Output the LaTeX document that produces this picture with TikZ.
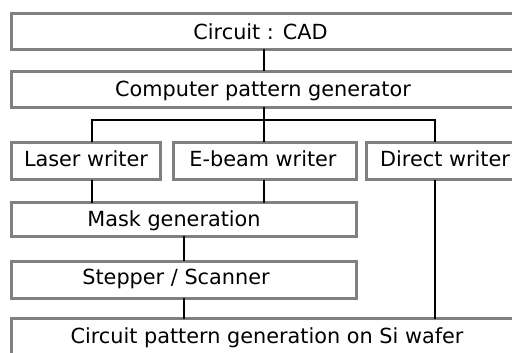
\documentclass[tikz,border=0pt]{standalone}
\usepackage{fontspec}
\setmainfont{DejaVu Sans}
\begin{document}
\begin{tikzpicture}[x=1pt,y=-1pt,
  box/.style={draw=black!50, line width=3pt, fill=white, inner sep=0pt, outer sep=0pt},
  lbl/.style={anchor=base, inner sep=0pt, font=\fontsize{20.8}{24}\selectfont},
  conn/.style={draw=black, line width=2pt}]
\useasboundingbox (0,0) rectangle (512,353);
\clip (0,0) rectangle (512,353);
\fill[white] (0,0) rectangle (512,353);
% boxes
\node[box, minimum width=518.3pt, minimum height=36pt] (cad) at (270.85,31.5) {};
\node[box, minimum width=518.3pt, minimum height=36pt] (cpg) at (270.85,89.5) {};
\node[box, minimum width=148.8pt, minimum height=37.7pt] (laser) at (86.1,160.85) {};
\node[box, minimum width=182.5pt, minimum height=37.7pt] (ebeam) at (264.75,160.85) {};
\node[box, minimum width=163.5pt, minimum height=37.7pt] (direct) at (448.25,160.85) {};
\node[box, minimum width=344.3pt, minimum height=33.5pt] (mask) at (183.85,219.25) {};
\node[box, minimum width=344.3pt, minimum height=37pt] (stepper) at (183.85,279.8) {};
\node[box, minimum width=518.3pt, minimum height=61.5pt] (wafer) at (270.85,349.25) {};
% labels
\node[lbl] (tcad) at (260.5,40) {Circuit : CAD};
\node[lbl] (tcpg) at (263,97) {Computer pattern generator};
\node[lbl] (tlaser) at (86,167) {Laser writer};
\node[lbl] (tebeam) at (263,167) {E-beam writer};
\node[lbl] (tdirect) at (445,167) {Direct writer};
\node[lbl] (tmask) at (174,226) {Mask generation};
\node[lbl] (tstep) at (176,284) {Stepper / Scanner};
\node[lbl] (twafer) at (267,343) {Circuit pattern generation on Si wafer};
% connector x positions
\coordinate (xc) at (263.8,0);
\coordinate (xl) at (92.3,0);
\coordinate (xd) at (435,0);
\coordinate (xm) at (183.5,0);
\coordinate (bus) at (0,120);
% connectors
\draw[conn] (cad.south -| xc) -- (cpg.north -| xc);
\draw[conn] (cpg.south -| xc) -- (ebeam.north -| xc);
\draw[conn] (laser.north -| xl) |- (bus -| xc) -| (direct.north -| xd);
\draw[conn] (laser.south -| xl) -- (mask.north -| xl);
\draw[conn] (ebeam.south -| xc) -- (mask.north -| xc);
\draw[conn] (mask.south -| xm) -- (stepper.north -| xm);
\draw[conn] (stepper.south -| xm) -- (wafer.north -| xm);
\draw[conn] (direct.south -| xd) -- (wafer.north -| xd);
\end{tikzpicture}
\end{document}
